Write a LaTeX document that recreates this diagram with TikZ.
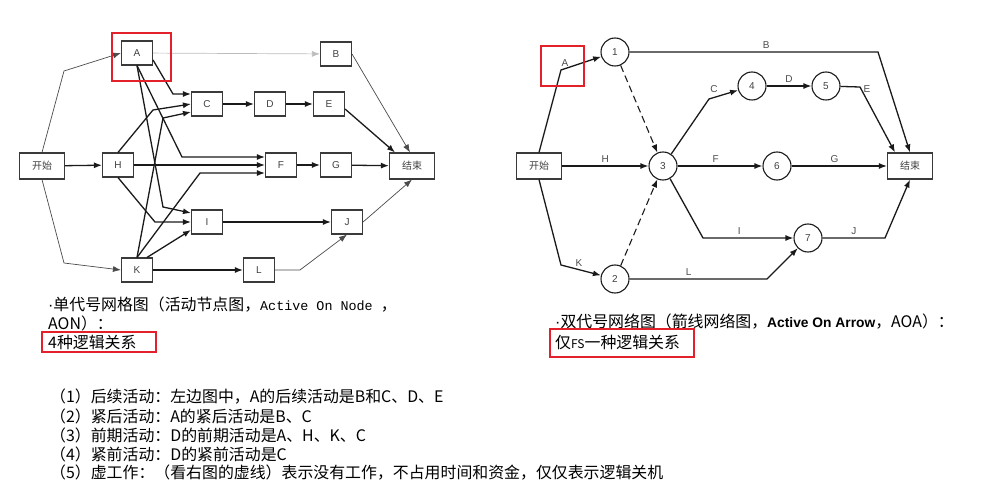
\documentclass[tikz,border=0pt]{standalone}
\usepackage{fontspec}
\setmainfont{Noto Sans CJK SC}
\newfontfamily\latinsans{Liberation Sans}
\newfontfamily\latinmono{Liberation Mono}
\usepackage{tikz}
\usetikzlibrary{
  arrows.meta,
  positioning,
  calc
}
\definecolor{pnLine}{HTML}{1A1A1A}
\definecolor{pnThin}{HTML}{4A4A4A}
\definecolor{pnFaint}{HTML}{BDBDBD}
\definecolor{pnBox}{HTML}{3A3A3A}
\definecolor{pnRed}{HTML}{E3212B}
\tikzset{
  actbox/.style={
    draw=pnBox, line width=1.1pt, minimum width=31pt, minimum height=24pt,
    inner sep=0pt, font=\fontsize{10}{12}\selectfont\latinsans, text=black!75
  },
  endbox/.style={actbox, minimum width=45pt, minimum height=26pt, font=\fontsize{10}{12}\selectfont},
  evt/.style={circle, draw=pnLine, line width=1.1pt, minimum size=28pt, inner sep=0pt,
    font=\fontsize{10}{12}\selectfont\latinsans, text=black!75},
  link/.style={-{Latex[length=8pt,width=6pt]}, line width=1.3pt, pnLine},
  thinlink/.style={link, line width=0.7pt, pnThin},
  dummy/.style={link, line width=1.1pt, dash pattern=on 7pt off 4pt},
  lbl/.style={font=\fontsize{10}{12}\selectfont\latinsans, text=black!70, inner sep=1pt},
  note/.style={anchor=west, inner sep=0pt, font=\fontsize{15.9}{18}\selectfont},
  redbox/.style={draw=pnRed, line width=2.2pt}
}
\newcommand{\middot}{{\latinsans ·}}

\begin{document}
\begin{tikzpicture}[x=1pt, y=-1pt]
  \useasboundingbox (0,0) rectangle (983,497);
  % single-code network (activity on node)
  \node[endbox] (ls) at (42,166) {开始};
  \node[actbox] (a) at (137,53) {A};
  \node[actbox] (b) at (336,54) {B};
  \node[actbox] (c) at (207,104) {C};
  \node[actbox] (d) at (270,104) {D};
  \node[actbox] (e) at (329,104) {E};
  \node[actbox] (h) at (118,165) {H};
  \node[actbox] (f) at (281,165) {F};
  \node[actbox] (g) at (336,165) {G};
  \node[endbox] (le) at (412,166) {结束};
  \node[actbox] (i) at (207,222) {I};
  \node[actbox] (j) at (347,222) {J};
  \node[actbox] (k) at (137,270) {K};
  \node[actbox] (l) at (259,270) {L};
  \foreach \s/\e in {ls/h, c/d, d/e, h/f, f/g, g/le, i/j, k/l}{\draw[link] (\s) -- (\e);}
  \draw[thinlink] (ls.north) -- (64,71) -- (a.west);
  \draw[thinlink] (ls.south) -- (64,263) -- (k.west);
  \draw[thinlink, pnFaint] (a) -- (b);
  \draw[thinlink] (b.east) -- ([xshift=-2pt]le.north);
  \draw[thinlink] (l.east) -- (300,270) -- (j.south);
  \draw[thinlink] (j.east) -- (le.south);
  \draw[link] ([yshift=-7pt]a.east) -- (173,94) -- ([yshift=10pt]c.west);
  \draw[link] (h.north) -- (153,110) -- (c.west);
  \draw[link] (k.north) -- (163,118) -- ([yshift=-8pt]c.west);
  \draw[link] (a.south) -- (182,157) -- ([yshift=8pt]f.west);
  \draw[link] (k.north) -- (200,173) -- ([yshift=-8pt]f.west);
  \draw[link] (a.south) -- (163,207) -- ([yshift=9pt]i.west);
  \draw[link] (h.south) -- (155,222) -- (i.west);
  \draw[link] ([xshift=10pt]k.north) -- ([yshift=-8pt]i.west);
  \draw[link] ([yshift=-5pt]e.east) -- ([xshift=-17pt]le.north);

  % double-code network (activity on arrow)
  \node[endbox] (rs) at (539,166) {开始};
  \node[evt] (n1) at (615,52) {1};
  \node[evt] (n2) at (615,279) {2};
  \node[evt] (n3) at (663,166) {3};
  \node[evt] (n4) at (752,86) {4};
  \node[evt] (n5) at (826,86) {5};
  \node[evt] (n6) at (777,166) {6};
  \node[evt] (n7) at (808,238) {7};
  \node[endbox] (re) at (910,166) {结束};
  \draw[link] (rs.north) -- (561,70) node[lbl, above=2pt, xshift=4pt] {A} -- (n1);
  \draw[link] (rs.south) -- (561,265) -- node[lbl, above=2pt, pos=0.45] {K} (n2);
  \draw[link] (rs) -- node[lbl, above=2pt] {H} (n3);
  \draw[link] (n1) -- node[lbl, above=2pt, pos=0.55] {B} (878,52) -- (re.north);
  \draw[link] (n3) -- (709,99) node[lbl, above=5pt, xshift=5pt] {C} -- (n4);
  \draw[link] (n4) -- node[lbl, above=2pt] {D} (n5);
  \draw[link] (n5) -- (860,87) node[lbl, right=2pt, yshift=-2pt] {E} -- ([xshift=-15pt]re.north);
  \draw[link] (n3) -- node[lbl, above=2pt, pos=0.45] {F} (n6);
  \draw[link] (n6) -- node[lbl, above=2pt, pos=0.45] {G} (re);
  \draw[link] (n3) -- (703,238) -- node[lbl, above=2pt, pos=0.4] {I} (n7);
  \draw[link] (n7) -- node[lbl, above=2pt] {J} (885,238) -- (re.south);
  \draw[link] (n2) -- node[lbl, above=2pt, pos=0.43] {L} (767,279) -- (n7);
  \draw[dummy] (n1) -- (n3);
  \draw[dummy] (n2) -- (n3);

  % notes
  \node[note] (aon) at (48,305) {\middot 单代号网格图（活动节点图，{\latinmono\fontsize{13.4}{16}\selectfont Active On Node }，};
  \node[note] (aon2) at (48,323) {AON）：};
  \node[note] (rel4) at (48,342) {4种逻辑关系};
  \node[note] (aoa) at (555,322) {\middot 双代号网络图（箭线网络图，{\latinsans\bfseries\fontsize{13.8}{16}\selectfont Active On Arrow}，AOA）：};
  \node[note] (relfs) at (555,342) {仅{\fontsize{12}{14}\selectfont FS}一种逻辑关系};
  \foreach \t [count=\n] in {
    {（1）后续活动：左边图中，A的后续活动是B和C、D、E},
    {（2）紧后活动：A的紧后活动是B、C},
    {（3）前期活动：D的前期活动是A、H、K、C},
    {（4）紧前活动：D的紧前活动是C},
    {（5）虚工作：（看右图的虚线）表示没有工作，不占用时间和资金，仅仅表示逻辑关机}
  }{\node[note] (item\n) at (50,378+19*\n) {\t};}

  \draw[redbox] (112,33) rectangle (171,81);
  \draw[redbox] (541,46) rectangle (584,86);
  \draw[redbox] (42,332) rectangle (156,352);
  \draw[redbox] (550,329) rectangle (694,357);
\end{tikzpicture}
\end{document}
